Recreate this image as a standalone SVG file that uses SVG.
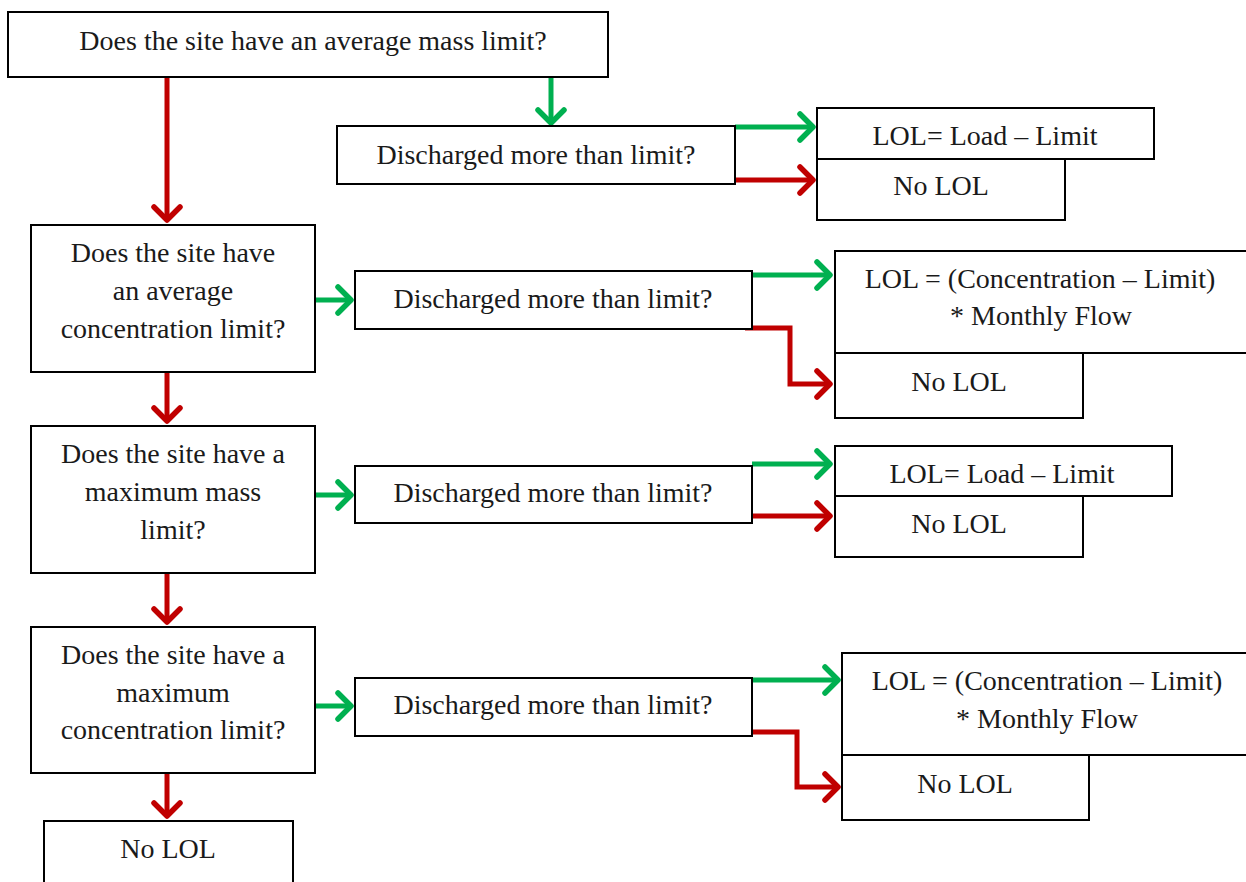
<svg xmlns="http://www.w3.org/2000/svg" width="1246" height="882" viewBox="0 0 1246 882">
<style>
.box{fill:#fff;stroke:#000;stroke-width:2}
text{font-family:"Liberation Serif","Times New Roman",serif;font-size:28px;fill:#1a1a1a;text-anchor:middle}
.r{fill:none;stroke:#C00000;stroke-width:5}
.g{fill:none;stroke:#00B050;stroke-width:5}
</style>
<defs>
<marker id="ar" markerUnits="userSpaceOnUse" viewBox="-20 -20 30 40" markerWidth="30" markerHeight="40" refX="0" refY="0" orient="auto" overflow="visible">
<path d="M-13,-13 L0,0 L-13,13" fill="none" stroke="#C00000" stroke-width="5.5" stroke-linecap="round" stroke-linejoin="round"/>
</marker>
<marker id="ag" markerUnits="userSpaceOnUse" viewBox="-20 -20 30 40" markerWidth="30" markerHeight="40" refX="0" refY="0" orient="auto" overflow="visible">
<path d="M-13,-13 L0,0 L-13,13" fill="none" stroke="#00B050" stroke-width="5.5" stroke-linecap="round" stroke-linejoin="round"/>
</marker>
</defs>
<rect width="1246" height="882" fill="#fff"/>
<g id="connectors">
<path class="r" d="M167,78 V220" marker-end="url(#ar)"/>
<path class="g" d="M551,78 V123" marker-end="url(#ag)"/>
<path class="g" d="M735,127 H813" marker-end="url(#ag)"/>
<path class="r" d="M735,180 H813" marker-end="url(#ar)"/>
<path class="g" d="M315,300 H351" marker-end="url(#ag)"/>
<path class="g" d="M752,275 H830" marker-end="url(#ag)"/>
<path class="r" d="M745,328 H790 V384 H830" marker-end="url(#ar)"/>
<path class="r" d="M167,372 V421" marker-end="url(#ar)"/>
<path class="g" d="M315,495 H351" marker-end="url(#ag)"/>
<path class="g" d="M752,464 H830" marker-end="url(#ag)"/>
<path class="r" d="M752,516 H830" marker-end="url(#ar)"/>
<path class="r" d="M167,573 V622" marker-end="url(#ar)"/>
<path class="g" d="M315,706 H351" marker-end="url(#ag)"/>
<path class="g" d="M752,680 H838" marker-end="url(#ag)"/>
<path class="r" d="M745,732 H797 V787 H838" marker-end="url(#ar)"/>
<path class="r" d="M167,773 V816" marker-end="url(#ar)"/>
</g>
<g id="q1"><rect class="box" x="8" y="12" width="600" height="65"/><text x="313" y="50">Does the site have an average mass limit?</text></g>
<g id="d1"><rect class="box" x="337" y="126" width="398" height="58"/><text x="536" y="164">Discharged more than limit?</text></g>
<g id="y1"><rect class="box" x="817" y="108" width="337" height="51"/><text x="985" y="145">LOL= Load – Limit</text></g>
<g id="n1"><rect class="box" x="817" y="159" width="248" height="61"/><text x="941" y="195">No LOL</text></g>
<g id="q2"><rect class="box" x="31" y="225" width="284" height="147"/><text x="173" y="262">Does the site have</text><text x="173" y="300">an average</text><text x="173" y="338">concentration limit?</text></g>
<g id="d2"><rect class="box" x="355" y="271" width="397" height="58"/><text x="553" y="308">Discharged more than limit?</text></g>
<g id="y2"><rect class="box" x="835" y="251" width="420" height="102"/><text x="1040" y="288">LOL = (Concentration – Limit)</text><text x="1041" y="325">* Monthly Flow</text></g>
<g id="n2"><rect class="box" x="835" y="353" width="248" height="65"/><text x="959" y="391">No LOL</text></g>
<g id="q3"><rect class="box" x="31" y="426" width="284" height="147"/><text x="173" y="463">Does the site have a</text><text x="173" y="501">maximum mass</text><text x="173" y="539">limit?</text></g>
<g id="d3"><rect class="box" x="355" y="466" width="397" height="57"/><text x="553" y="502">Discharged more than limit?</text></g>
<g id="y3"><rect class="box" x="835" y="446" width="337" height="50"/><text x="1002" y="483">LOL= Load – Limit</text></g>
<g id="n3"><rect class="box" x="835" y="496" width="248" height="61"/><text x="959" y="533">No LOL</text></g>
<g id="q4"><rect class="box" x="31" y="627" width="284" height="146"/><text x="173" y="664">Does the site have a</text><text x="173" y="702">maximum</text><text x="173" y="739">concentration limit?</text></g>
<g id="d4"><rect class="box" x="355" y="678" width="397" height="58"/><text x="553" y="714">Discharged more than limit?</text></g>
<g id="y4"><rect class="box" x="842" y="653" width="413" height="102"/><text x="1047" y="690">LOL = (Concentration – Limit)</text><text x="1047" y="728">* Monthly Flow</text></g>
<g id="n4"><rect class="box" x="842" y="755" width="247" height="65"/><text x="965" y="793">No LOL</text></g>
<g id="n5"><rect class="box" x="44" y="821" width="249" height="70"/><text x="168" y="858">No LOL</text></g>
</svg>
